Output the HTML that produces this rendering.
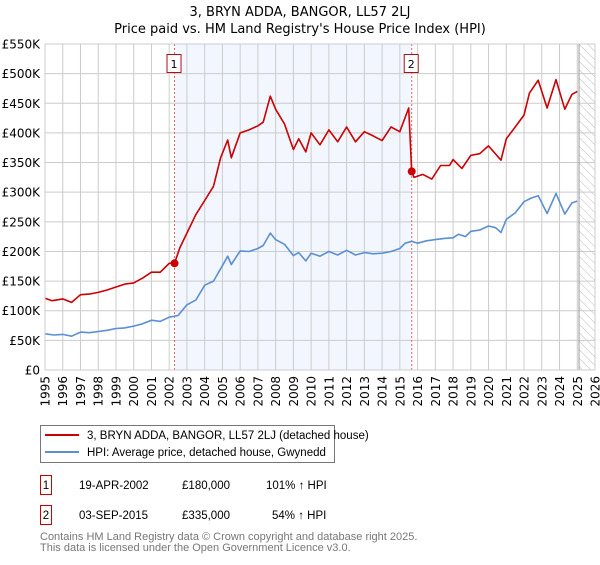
<!DOCTYPE html>
<html><head><meta charset="utf-8"><style>
body{margin:0;background:#fff;font-family:"Liberation Sans","DejaVu Sans",sans-serif}
svg text{font-family:"DejaVu Sans","Liberation Sans",sans-serif}
svg text.lib{font-family:"Liberation Sans","DejaVu Sans",sans-serif}
</style></head><body>
<svg id="chart" width="600" height="560" xmlns="http://www.w3.org/2000/svg">
<defs><pattern id="hatch" width="6" height="6" patternUnits="userSpaceOnUse" patternTransform="rotate(-45)"><line x1="0" y1="0" x2="0" y2="6" stroke="#bbb" stroke-width="1"/></pattern></defs>
<text x="300" y="16" text-anchor="middle" font-size="13" fill="#000">3, BRYN ADDA, BANGOR, LL57 2LJ</text>
<text x="300" y="33" text-anchor="middle" font-size="13" fill="#000">Price paid vs. HM Land Registry's House Price Index (HPI)</text>
<g id="plot"></g>
<rect x="40.5" y="425.5" width="294" height="37" fill="#fff" stroke="#777"/>
<line x1="45" y1="435" x2="79" y2="435" stroke="#cc0000" stroke-width="2"/>
<text class="lib" x="87" y="439" font-size="11.5">3, BRYN ADDA, BANGOR, LL57 2LJ (detached house)</text>
<line x1="45" y1="452" x2="79" y2="452" stroke="#5b8fd4" stroke-width="2"/>
<text class="lib" x="87" y="456" font-size="11.5">HPI: Average price, detached house, Gwynedd</text>
<g font-size="11.5">
<rect x="40.5" y="475.5" width="11" height="19" fill="#fff" stroke="#cc0000"/>
<text class="lib" x="46" y="489" text-anchor="middle">1</text>
<text class="lib" x="79" y="489">19-APR-2002</text>
<text class="lib" x="230" y="489" text-anchor="end">£180,000</text>
<text class="lib" x="266" y="489">101% ↑ HPI</text>
</g>
<g font-size="11.5">
<rect x="40.5" y="505.5" width="11" height="19" fill="#fff" stroke="#cc0000"/>
<text class="lib" x="46" y="519" text-anchor="middle">2</text>
<text class="lib" x="79" y="519">03-SEP-2015</text>
<text class="lib" x="230" y="519" text-anchor="end">£335,000</text>
<text class="lib" x="272" y="519">54% ↑ HPI</text>
</g>
<text class="lib" x="40" y="540" font-size="11" fill="#777">Contains HM Land Registry data © Crown copyright and database right 2025.</text>
<text class="lib" x="40" y="551" font-size="11" fill="#777">This data is licensed under the Open Government Licence v3.0.</text>
</svg>
<script>
const yearTicks=[1995,1996,1997,1998,1999,2000,2001,2002,2003,2004,2005,2006,2007,2008,2009,2010,2011,2012,2013,2014,2015,2016,2017,2018,2019,2020,2021,2022,2023,2024,2025,2026];
const valueTicks=[0,50,100,150,200,250,300,350,400,450,500,550];
const valueLabels=["£0","£50K","£100K","£150K","£200K","£250K","£300K","£350K","£400K","£450K","£500K","£550K"];
const hpiYears=[1995,1995.5,1996,1996.5,1997,1997.5,1998,1998.5,1999,1999.5,2000,2000.5,2001,2001.5,2002,2002.5,2003,2003.5,2004,2004.5,2005,2005.3,2005.5,2006,2006.5,2007,2007.3,2007.7,2008,2008.5,2009,2009.3,2009.7,2010,2010.5,2011,2011.5,2012,2012.5,2013,2013.5,2014,2014.5,2015,2015.3,2015.67,2016,2016.5,2017,2017.5,2018,2018.3,2018.7,2019,2019.5,2020,2020.4,2020.7,2021,2021.5,2022,2022.4,2022.8,2023.3,2023.8,2024.3,2024.7,2025];
const hpiValues=[61,59,60,57,64,63,65,67,70,71,74,78,84,82,89,92,110,118,143,150,176,192,178,201,200,205,210,231,220,212,193,198,184,197,192,200,194,202,194,198,196,197,200,205,214,217,214,218,220,222,223,229,225,234,236,243,240,232,254,265,284,290,294,264,298,263,282,285];
const priceYears=[1995,1995.4,1996,1996.5,1997,1997.5,1998,1998.5,1999,1999.5,2000,2000.5,2001,2001.5,2002,2002.3,2002.6,2003,2003.5,2004,2004.5,2004.9,2005.3,2005.5,2006,2006.5,2007,2007.3,2007.7,2008,2008.5,2009,2009.3,2009.7,2010,2010.5,2011,2011.5,2012,2012.5,2013,2013.5,2014,2014.5,2015,2015.5,2015.67,2015.8,2016.3,2016.8,2017.3,2017.8,2018,2018.5,2019,2019.5,2020,2020.7,2021,2021.5,2022,2022.3,2022.8,2023.3,2023.8,2024.3,2024.7,2025];
const priceValues=[121,117,120,114,127,128,131,135,140,145,147,155,165,165,180,180,206,231,262,286,310,358,388,358,400,405,412,418,462,440,415,372,390,368,400,380,405,385,410,385,402,395,387,410,402,442,335,325,330,322,345,345,355,340,362,365,378,354,390,410,430,467,489,442,490,440,465,470];
const saleYears=[2002.3,2015.67];
const saleValues=[180,335];
const saleLabels=["1","2"];

const X0=45,X1=595,Y0=370,Y1=44;
const xs=y=>X0+(y-1995)/(2026-1995)*(X1-X0);
const ys=v=>Y0-v/550*(Y0-Y1);
const NS="http://www.w3.org/2000/svg";
const plot=document.getElementById('plot');
function mk(tag,attrs,parent){const e=document.createElementNS(NS,tag);for(const k in attrs)e.setAttribute(k,attrs[k]);(parent||plot).appendChild(e);return e;}

const shade=mk('rect',{x:xs(saleYears[0]),y:Y1,width:xs(saleYears[1])-xs(saleYears[0]),height:Y0-Y1,fill:'#eef3fd',opacity:0.75});


const hatch=mk('rect',{x:xs(2025.1),y:Y1,width:X1-xs(2025.1),height:Y0-Y1,fill:'url(#hatch)'});



yearTicks.forEach(yr=>{
  const l=mk('line',{x1:xs(yr),x2:xs(yr),y1:Y1,y2:Y0,stroke:'#ccc','stroke-width':1});
  
  
  const t=mk('text',{x:0,y:0,'font-size':12,'text-anchor':'end',transform:`translate(${xs(yr)+4.5},${Y0+6}) rotate(-90)`});
  t.textContent=yr;
  
  
});
valueTicks.forEach((v,i)=>{
  const l=mk('line',{x1:X0,x2:X1,y1:ys(v),y2:ys(v),stroke:'#ccc','stroke-width':1});
  
  
  const t=mk('text',{x:X0-5,y:ys(v)+4.5,'font-size':12,'text-anchor':'end'});
  t.textContent=valueLabels[i];
  
  
});
const vline=mk('line',{x1:xs(2025.1),x2:xs(2025.1),y1:Y1,y2:Y0,stroke:'#999','stroke-width':1});



saleYears.forEach((yr,i)=>{
  const l=mk('line',{x1:xs(yr),x2:xs(yr),y1:Y1,y2:Y0,stroke:'#e06666','stroke-width':1,'stroke-dasharray':'2,2'});
  
  
});

function path(xsArr,vs,color,name){
  const d=xsArr.map((y,i)=>(i?'L':'M')+xs(y).toFixed(1)+','+ys(vs[i]).toFixed(1)).join('');
  const p=mk('path',{d:d,fill:'none',stroke:color,'stroke-width':1.6,'stroke-linejoin':'round'});
  
  
}
path(hpiYears,hpiValues,'#5b8fd4','hpi-line');
path(priceYears,priceValues,'#cc0000','price-line');

saleYears.forEach((yr,i)=>{
  const c=mk('circle',{cx:xs(yr),cy:ys(saleValues[i]),r:4,fill:'#cc0000'});
  
  
  const b=mk('rect',{x:xs(yr)-7.5,y:54.5,width:14,height:18,fill:'#fff',stroke:'#aa1111'});
  
  
  const t=mk('text',{x:xs(yr)-0.5,y:68,'font-size':11,'text-anchor':'middle'});
  t.textContent=saleLabels[i];
  
  
});
const frame=mk('rect',{x:X0,y:Y1,width:X1-X0,height:Y0-Y1,fill:'none',stroke:'#ccc'});


</script>
</body></html>
